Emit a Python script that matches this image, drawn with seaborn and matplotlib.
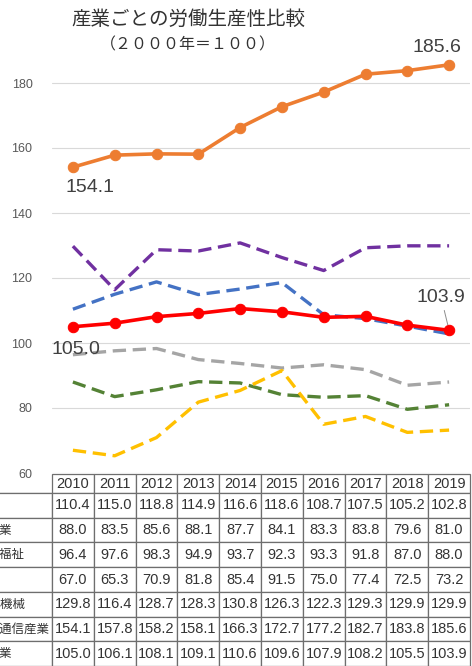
import seaborn as sns
import pandas as pd
import matplotlib.pyplot as plt

years = [2010, 2011, 2012, 2013, 2014, 2015, 2016, 2017, 2018, 2019]
names = ["卸売", "建設業", "医療福祉", "運輸", "電気機械", "情報通信産業", "全産業"]
blue = [110.4, 115.0, 118.8, 114.9, 116.6, 118.6, 108.7, 107.5, 105.2, 102.8]
green = [88.0, 83.5, 85.6, 88.1, 87.7, 84.1, 83.3, 83.8, 79.6, 81.0]
gray = [96.4, 97.6, 98.3, 94.9, 93.7, 92.3, 93.3, 91.8, 87.0, 88.0]
yellow = [67.0, 65.3, 70.9, 81.8, 85.4, 91.5, 75.0, 77.4, 72.5, 73.2]
purple = [129.8, 116.4, 128.7, 128.3, 130.8, 126.3, 122.3, 129.3, 129.9, 129.9]
orange = [154.1, 157.8, 158.2, 158.1, 166.3, 172.7, 177.2, 182.7, 183.8, 185.6]
red = [105.0, 106.1, 108.1, 109.1, 110.6, 109.6, 107.9, 108.2, 105.5, 103.9]

series = [blue, green, gray, yellow, purple, orange, red]
colors = ["#4472C4", "#548235", "#A5A5A5", "#FFC000", "#7030A0", "#ED7D31", "#FF0000"]

sns.set_theme(style="white")
plt.rcParams['font.family'] = ['Liberation Sans', 'Noto Sans CJK JP', 'DejaVu Sans']

fig = plt.figure(figsize=(4.72, 6.66), dpi=100)
ax = fig.add_axes([52 / 472, 193 / 666, 418 / 472, 455 / 666])

for vals, col in zip(series[:5], colors[:5]):
    df = pd.DataFrame({"year": years, "v": vals})
    sns.lineplot(data=df, x="year", y="v", ax=ax, color=col, lw=2.4,
                 linestyle=(0, (4, 2)))
for vals, col in zip(series[5:], colors[5:]):
    df = pd.DataFrame({"year": years, "v": vals})
    sns.lineplot(data=df, x="year", y="v", ax=ax, color=col, lw=2.6,
                 marker="o", markersize=7.5, markeredgecolor=col)

ax.set_xlim(2009.5, 2019.5)
ax.set_ylim(60, 200)
ax.set_yticks([60, 80, 100, 120, 140, 160, 180])
ax.set_xticks([])
ax.set_xlabel("")
ax.set_ylabel("")
ax.tick_params(axis="y", length=0, pad=14, labelsize=9, labelcolor="#595959")
ax.grid(axis="y", color="#D9D9D9", lw=0.8)
for s in ax.spines.values():
    s.set_visible(False)

# data labels
lab = dict(fontsize=14, color="#404040", textcoords="offset pixels", ha="center", va="center")
ax.annotate(f"{orange[0]:.1f}", (years[0], orange[0]), xytext=(17, -20), **lab)
ax.annotate(f"{orange[-1]:.1f}", (years[-1], orange[-1]), xytext=(-12, 17), **lab)
ax.annotate(f"{red[0]:.1f}", (years[0], red[0]), xytext=(3, -23), **lab)
ax.annotate(f"{red[-1]:.1f}", (years[-1], red[-1]), xytext=(-8, 33),
            arrowprops=dict(arrowstyle="-", color="#8C8C8C", lw=0.7, shrinkA=1, shrinkB=4), **lab)

# title
fig.text(188 / 472, 1 - 19 / 666, "産業ごとの労働生産性比較", ha="center", va="center",
         fontsize=14, color="#333333", family=['Noto Sans CJK JP'])
fig.text(188 / 472, 1 - 45 / 666, "（２０００年＝１００）", ha="center", va="center",
         fontsize=11.5, color="#333333", family=['Noto Sans CJK JP'])

# data table
cells = [[n] + [f"{v:.1f}" for v in vals] for n, vals in zip(names, series)]
header = [""] + [str(y) for y in years]
tbl = ax.table(cellText=[header] + cells, cellLoc="center",
               bbox=[-82 / 418, -193 / 455, 1 + 82 / 418, 192 / 455])
tbl.auto_set_font_size(False)
for (r, c), cell in tbl.get_celld().items():
    cell.set_edgecolor("#6E6E6E")
    cell.set_linewidth(0.9)
    cell.set_width(82 if c == 0 else 41.8)
    cell.set_height(19 if r == 0 else 24.6)
    t = cell.get_text()
    t.set_fontsize(10.5)
    t.set_color("#333333")
    if c == 0:
        t.set_family(['Noto Sans CJK JP'])
        t.set_fontsize(9)
        t.set_ha("left")
        cell.PAD = 0.06
        cell._loc = "left"
        if r == 0:
            cell.visible_edges = "B"

fig.savefig("out.png", dpi=100)
